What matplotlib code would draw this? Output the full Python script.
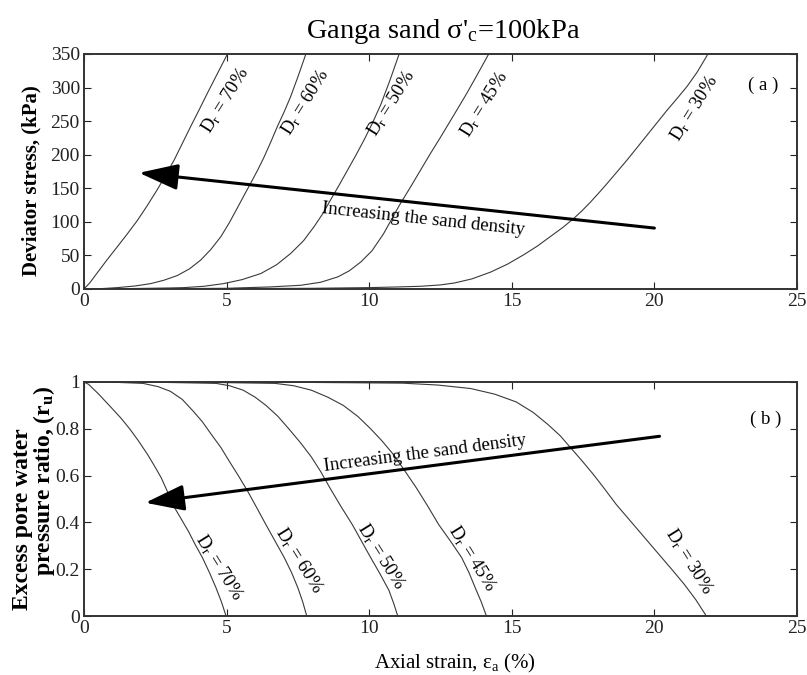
import matplotlib
matplotlib.use("Agg")
import matplotlib.pyplot as plt

plt.rcParams['font.family'] = ['Liberation Serif', 'DejaVu Serif']
plt.rcParams['mathtext.fontset'] = 'custom'
plt.rcParams['mathtext.rm'] = 'Liberation Serif'
plt.rcParams['mathtext.it'] = 'Liberation Serif:italic'

# ---------------- data: (a) deviator stress vs axial strain ----------------
dr_labels = ["70%", "60%", "50%", "45%", "30%"]

strain_a_70 = [0, 0.2, 0.5, 0.8, 1.17, 1.5, 1.87, 2.2, 2.57, 2.87, 3.16, 3.45, 3.74, 4.05, 4.33, 4.68, 5.03]
stress_70 = [0, 9, 26, 43, 63, 81, 102, 123, 148, 170, 192, 217, 242, 268, 292, 321, 350]

strain_a_60 = [0, 0.6, 1.17, 1.8, 2.34, 2.8, 3.27, 3.7, 4.09, 4.45, 4.80, 5.1, 5.38, 5.62, 5.85,
               6.1, 6.32, 6.55, 6.78, 7.02, 7.25, 7.5, 7.78]
stress_60 = [0, 0.5, 2, 4.5, 8, 13, 20, 30, 43, 59, 78, 99, 121, 140, 158,
             178, 197, 219, 242, 264, 287, 316, 350]

strain_a_50 = [0, 1.5, 3.0, 3.5, 4.2, 4.9, 5.55, 6.2, 6.75, 7.25, 7.7, 8.07, 8.37, 8.65, 8.95,
               9.24, 9.53, 9.82, 10.1, 10.4, 10.72, 11.05]
stress_50 = [0, 0.5, 1.5, 2, 4, 8, 14, 23, 36, 53, 72, 93, 112, 133, 155,
             177, 199, 222, 246, 274, 310, 350]

strain_a_45 = [0, 3, 5, 6.5, 7.6, 8.3, 8.9, 9.3, 9.7, 10.1, 10.5, 11.05, 11.45, 11.8, 12.15, 12.5,
               12.84, 13.15, 13.43, 13.8, 14.19]
stress_45 = [0, 0.5, 1, 3, 5.5, 10, 18, 27, 40, 57, 82, 124, 152, 177, 202, 226,
             250, 272, 292, 320, 350]

strain_a_30 = [0, 4, 8, 10, 11, 11.8, 12.49, 13.0, 13.6, 14.25, 14.85, 15.42, 15.9, 16.35, 16.8, 17.17, 17.45,
               17.75, 18.05, 18.34, 18.7, 19.04, 19.4, 19.74, 20.1, 20.44, 20.8, 21.15, 21.5, 21.85]
stress_30 = [0, 0.5, 1, 2, 3, 4, 6, 9, 15, 25, 37, 51, 64, 78, 92, 105, 116,
             129, 143, 157, 175, 192, 211, 229, 248, 266, 284, 302, 323, 348]

# ---------------- data: (b) pore pressure ratio vs axial strain ----------------
strain_b_70 = [0, 0.16, 0.5, 0.96, 1.3, 1.6, 1.9, 2.23, 2.5, 2.71, 2.95, 3.19, 3.43, 3.67, 3.9,
               4.15, 4.4, 4.63, 4.82, 4.98]
ru_70 = [1.0, 0.99, 0.95, 0.89, 0.845, 0.80, 0.75, 0.69, 0.635, 0.59, 0.525, 0.46, 0.41, 0.36, 0.305,
         0.25, 0.185, 0.12, 0.06, 0.0]

strain_b_60 = [0, 1.0, 2.07, 2.6, 3.03, 3.45, 3.83, 4.15, 4.47, 4.8, 5.1, 5.42, 5.74, 6.06, 6.38,
               6.7, 7.02, 7.28, 7.5, 7.67, 7.81]
ru_60 = [1.0, 0.999, 0.994, 0.98, 0.96, 0.925, 0.875, 0.83, 0.775, 0.72, 0.66, 0.598, 0.533, 0.462, 0.39,
         0.32, 0.25, 0.185, 0.12, 0.06, 0.0]

strain_b_50 = [0, 2.5, 4.63, 5.1, 5.58, 6.0, 6.38, 6.8, 7.18, 7.58, 7.97, 8.3, 8.61, 9.0, 9.41,
               9.73, 10.05, 10.38, 10.69, 10.87, 11.0]
ru_50 = [1.0, 0.999, 0.994, 0.984, 0.965, 0.935, 0.90, 0.853, 0.80, 0.742, 0.68, 0.617, 0.55, 0.47, 0.39,
         0.32, 0.25, 0.18, 0.11, 0.05, 0.0]

strain_b_45 = [0, 4, 6.7, 7.35, 7.97, 8.55, 9.09, 9.6, 10.05, 10.45, 10.85, 11.25, 11.64, 12.05, 12.44,
               12.85, 13.24, 13.5, 13.72, 13.93, 14.11]
ru_45 = [1.0, 0.999, 0.994, 0.984, 0.965, 0.935, 0.90, 0.853, 0.80, 0.748, 0.69, 0.62, 0.55, 0.47, 0.39,
         0.32, 0.25, 0.185, 0.12, 0.06, 0.0]

strain_b_30 = [0, 7, 11.16, 12.4, 13.56, 14.4, 15.15, 15.75, 16.27, 16.7, 17.07, 17.47, 17.86, 18.26, 18.66,
               19.06, 19.46, 19.86, 20.26, 20.66, 21.05, 21.45, 21.82]
ru_30 = [1.0, 0.999, 0.995, 0.987, 0.972, 0.948, 0.915, 0.87, 0.818, 0.77, 0.718, 0.662, 0.605, 0.542, 0.477,
         0.42, 0.363, 0.306, 0.249, 0.192, 0.135, 0.07, 0.0]

# annotation anchors
label_pos_a = [(4.94, 281), (7.75, 278), (10.77, 277), (14.03, 275), (21.4, 269)]
label_pos_b = [(4.73, 0.21), (7.53, 0.239), (10.4, 0.256), (13.6, 0.246), (21.2, 0.232)]
arrow_a = [(20.0, 90.7), (1.93, 173.0)]   # tail, tip
arrow_b = [(20.18, 0.768), (2.15, 0.484)]
arrow_text_a = (11.9, 103)
arrow_text_b = (11.96, 0.693)

x_ticks = [0, 5, 10, 15, 20, 25]
y_ticks_a = [0, 50, 100, 150, 200, 250, 300, 350]
y_ticks_b = [0, 0.2, 0.4, 0.6, 0.8, 1.0]
y_ticklabels_b = ["0", "0.2", "0.4", "0.6", "0.8", "1"]

curves_a = [(strain_a_70, stress_70), (strain_a_60, stress_60), (strain_a_50, stress_50),
            (strain_a_45, stress_45), (strain_a_30, stress_30)]
curves_b = [(strain_b_70, ru_70), (strain_b_60, ru_60), (strain_b_50, ru_50),
            (strain_b_45, ru_45), (strain_b_30, ru_30)]

fig = plt.figure(figsize=(8.07, 6.75), dpi=100)
ax1 = fig.add_axes([0.1041, 0.5719, 0.8835, 0.3481])
ax2 = fig.add_axes([0.1041, 0.0874, 0.8835, 0.3467])

line_kw = dict(color='#3a3a3a', lw=0.8, solid_joinstyle='round')
tick_fs = 14

for ax in (ax1, ax2):
    ax.set_xlim(0, 25)
    ax.set_xticks(x_ticks)
    ax.tick_params(direction='in', length=5, width=0.8, top=True, right=True,
                   labelsize=tick_fs, pad=3, colors='#222222')
    for s in ax.spines.values():
        s.set_linewidth(1.4)
        s.set_color('#333333')

# (a)
for (x, y) in curves_a:
    ax1.plot(x, y, **line_kw)
ax1.set_ylim(0, 350)
ax1.set_yticks(y_ticks_a)
for (lx, ly), lab in zip(label_pos_a, dr_labels):
    ax1.text(lx, ly, 'D$_\\mathregular{r}$ = ' + lab, rotation=58, ha='center', va='center',
             rotation_mode='anchor', fontsize=13.5)
ax1.annotate('', xy=arrow_a[1], xytext=arrow_a[0],
             arrowprops=dict(arrowstyle='-|>,head_length=1.2,head_width=0.4', lw=2.2,
                             color='black', mutation_scale=20, shrinkA=0, shrinkB=0))
ax1.text(arrow_text_a[0], arrow_text_a[1], 'Increasing the sand density', rotation=-6.1,
         ha='center', va='center', rotation_mode='anchor', fontsize=13.5)
ax1.text(23.8, 304, '( a )', ha='center', va='center', fontsize=13.5)

# (b)
for (x, y) in curves_b:
    ax2.plot(x, y, **line_kw)
ax2.set_ylim(0, 1)
ax2.set_yticks(y_ticks_b)
ax2.set_yticklabels(y_ticklabels_b)
for (lx, ly), lab in zip(label_pos_b, dr_labels):
    ax2.text(lx, ly, 'D$_\\mathregular{r}$ = ' + lab, rotation=-58, ha='center', va='center',
             rotation_mode='anchor', fontsize=13.5)
ax2.annotate('', xy=arrow_b[1], xytext=arrow_b[0],
             arrowprops=dict(arrowstyle='-|>,head_length=1.2,head_width=0.4', lw=2.2,
                             color='black', mutation_scale=20, shrinkA=0, shrinkB=0))
ax2.text(arrow_text_b[0], arrow_text_b[1], 'Increasing the sand density', rotation=7.4,
         ha='center', va='center', rotation_mode='anchor', fontsize=13.5)
ax2.text(23.9, 0.84, '( b )', ha='center', va='center', fontsize=13.5)

# titles / labels
fig.text(443 / 807, 1 - 32 / 675, "Ganga sand σ'$_\\mathregular{c}$=100kPa",
         ha='center', va='center', fontsize=20.5)
fig.text(31 / 807, 1 - 181 / 675, 'Deviator stress, (kPa)', rotation=90,
         ha='center', va='center', fontsize=15, fontweight='bold')
fig.text(23 / 807, 1 - 519 / 675, 'Excess pore water', rotation=90,
         ha='center', va='center', fontsize=17, fontweight='bold')
fig.text(44 / 807, 1 - 481 / 675, 'pressure ratio, (r$_\\mathregular{u}$)', rotation=90,
         ha='center', va='center', fontsize=17, fontweight='bold')
fig.text(455 / 807, 1 - 663 / 675, 'Axial strain, ε$_\\mathregular{a}$ (%)',
         ha='center', va='center', fontsize=15)

fig.savefig('out.png', dpi=100)
